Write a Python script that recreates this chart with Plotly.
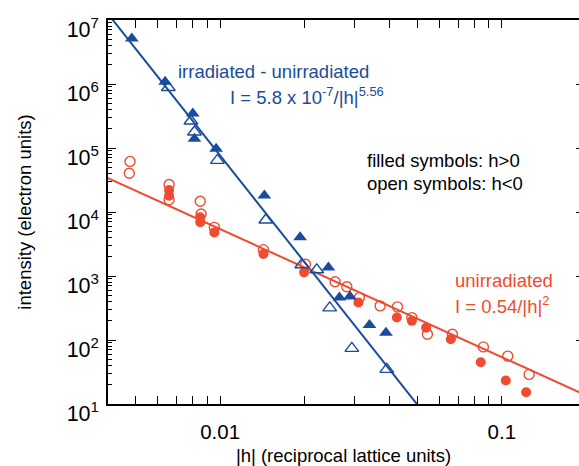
import math
import plotly.graph_objects as go

# ---- data ----
blue_filled_h = [0.00486, 0.00638, 0.0080, 0.00811, 0.00968, 0.01436, 0.01923, 0.02424, 0.02652, 0.0289, 0.0339, 0.0388]
blue_filled_I = [5.16e6, 1.08e6, 3.45e5, 1.40e5, 9.75e4, 1.81e4, 4.02e3, 1.36e3, 460, 480, 172, 130]

blue_open_h = [0.00655, 0.00788, 0.00811, 0.00978, 0.01453, 0.0195, 0.02204, 0.0245, 0.02935, 0.03906]
blue_open_I = [8.8e5, 2.64e5, 1.78e5, 6.4e4, 7.5e3, 1.5e3, 1.25e3, 318, 74, 34.8]

red_filled_h = [0.00659, 0.00659, 0.0085, 0.0085, 0.00954, 0.01425, 0.01987, 0.03097, 0.04241, 0.04793, 0.05387, 0.06592, 0.0842, 0.1033, 0.122]
red_filled_I = [2.2e4, 1.8e4, 8.3e3, 6.9e3, 4.8e3, 2.2e3, 1.14e3, 385, 224, 199, 156, 103, 45, 23.3, 15.3]

red_open_h = [0.00479, 0.00476, 0.00659, 0.00659, 0.0085, 0.00856, 0.00954, 0.01425, 0.0201, 0.0256, 0.02818, 0.03123, 0.037, 0.04261, 0.04793, 0.05445, 0.06678, 0.0860, 0.1050, 0.125]
red_open_I = [6.17e4, 4.04e4, 2.69e4, 1.55e4, 1.47e4, 9.3e3, 5.75e3, 2.58e3, 1.53e3, 815, 678, 460, 341, 329, 224, 123, 123, 78, 56, 29]

# fit parameters as printed on the chart
blue_amp, blue_exp = 5.8e-7, 5.56
red_amp, red_exp = 0.54, 2.0
fit_h = [0.004, 0.2]

x_tickvals = [0.01, 0.1]
x_ticktext = ["0.01", "0.1"]
y_tickvals = [1e1, 1e2, 1e3, 1e4, 1e5, 1e6, 1e7]
y_ticktext = ["10<sup>%d</sup>" % e for e in range(1, 8)]

BLUE = "#1a4c9e"
RED = "#ef4b30"
FONT = "Liberation Sans, Arial, Helvetica, sans-serif"

W, H = 579, 466
ML, MR, MT, MB = 108, 0, 20, 62
pw = W - ML - MR
ph = H - MT - MB
x_lo = math.log10(0.004)
x_hi = x_lo + pw / 281.7
y_range = [1, 7]

fig = go.Figure()

fig.add_trace(go.Scatter(x=fit_h, y=[blue_amp / h ** blue_exp for h in fit_h], mode="lines",
                         line=dict(color=BLUE, width=2), showlegend=False, hoverinfo="skip"))
fig.add_trace(go.Scatter(x=fit_h, y=[red_amp / h ** red_exp for h in fit_h], mode="lines",
                         line=dict(color=RED, width=2), showlegend=False, hoverinfo="skip"))

fig.add_trace(go.Scatter(x=red_open_h, y=red_open_I, mode="markers", showlegend=False,
                         marker=dict(symbol="circle-open", size=10, color=RED, line=dict(width=1.4))))
fig.add_trace(go.Scatter(x=red_filled_h, y=red_filled_I, mode="markers", showlegend=False,
                         marker=dict(symbol="circle", size=10, color=RED)))
fig.add_trace(go.Scatter(x=blue_open_h, y=blue_open_I, mode="markers", showlegend=False,
                         marker=dict(symbol="triangle-up-open", size=12, color=BLUE, line=dict(width=1.4))))
fig.add_trace(go.Scatter(x=blue_filled_h, y=blue_filled_I, mode="markers", showlegend=False,
                         marker=dict(symbol="triangle-up", size=12, color=BLUE)))
fig.add_trace(go.Scatter(x=[], y=[], yaxis="y2", showlegend=False))

minor_x = [m * 10 ** e for e in (-3, -2, -1) for m in range(2, 10)]
minor_y = [m * 10 ** e for e in range(1, 7) for m in range(2, 10)]

fig.update_layout(
    width=W, height=H,
    margin=dict(l=ML, r=MR, t=MT, b=MB, pad=0),
    paper_bgcolor="white", plot_bgcolor="white",
    font=dict(family=FONT, color="black", size=18.5),
    xaxis=dict(type="log", range=[x_lo, x_hi], showgrid=False, zeroline=False,
               showline=True, linecolor="black", linewidth=1.5, mirror="allticks",
               ticks="inside", ticklen=8, tickwidth=1.2, tickcolor="black",
               tickmode="array", tickvals=x_tickvals, ticktext=x_ticktext,
               tickfont=dict(size=20.5), ticklabelstandoff=9, ticklabeloverflow="allow",
               minor=dict(ticks="inside", ticklen=5, tickwidth=1.1, tickcolor="black",
                          tickmode="array", tickvals=minor_x, showgrid=False),
               title=dict(text="|h| (reciprocal lattice units)", font=dict(size=18.5), standoff=9)),
    yaxis=dict(type="log", range=y_range, showgrid=False, zeroline=False,
               showline=True, linecolor="black", linewidth=1.5, mirror=False,
               ticks="inside", ticklen=8, tickwidth=1.2, tickcolor="black",
               tickmode="array", tickvals=y_tickvals, ticktext=y_ticktext,
               tickfont=dict(size=21.5), ticklabelstandoff=3, ticklabelshift=9,
               ticklabeloverflow="allow",
               minor=dict(ticks="inside", ticklen=4, tickwidth=1.0, tickcolor="black",
                          tickmode="array", tickvals=minor_y, showgrid=False),
               title=dict(text="intensity (electron units)", font=dict(size=18.5), standoff=30)),
    yaxis2=dict(type="log", range=y_range, overlaying="y", side="right", anchor="x",
                showgrid=False, zeroline=False, showline=False, showticklabels=False,
                ticks="inside", ticklen=3, tickwidth=1.2, tickcolor="black",
                tickmode="array", tickvals=y_tickvals),
)

def px2paper(px, py):
    return (px - ML) / pw, (H - MB - py) / ph

annots = [
    ("irradiated - unirradiated", 176, 71, BLUE),
    ("I = 5.8 x 10<sup>-7</sup>/|h|<sup>5.56</sup>", 228, 96, BLUE),
    ("filled symbols: h&gt;0", 365, 160, "black"),
    ("open symbols: h&lt;0", 365, 183, "black"),
    ("unirradiated", 453, 280, RED),
    ("I = 0.54/|h|<sup>2</sup>", 453, 305, RED),
]
for text, px, py, col in annots:
    ax, ay = px2paper(px, py)
    fig.add_annotation(text=text, x=ax, y=ay, xref="paper", yref="paper",
                       xanchor="left", yanchor="middle", showarrow=False,
                       font=dict(color=col, size=18.5, family=FONT))

fig.write_html("out.html")
